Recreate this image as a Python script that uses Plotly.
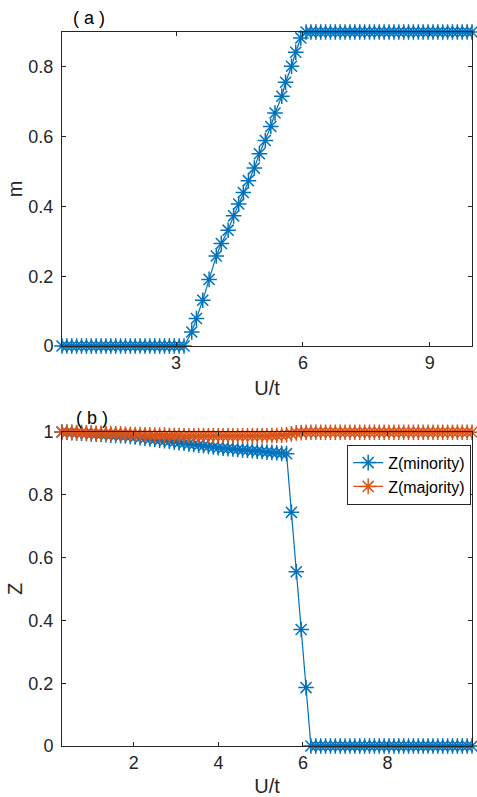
import numpy as np
import plotly.graph_objects as go
from plotly.subplots import make_subplots

# ---------------- data ----------------
# common U/t sampling grid
U_grid = np.round(np.linspace(0.3, 10.0, 85), 4).tolist()

# panel (a): magnetization m
U_a_low = [u for u in U_grid if u < 3.25]
m_low = [0.0] * len(U_a_low)
U_a_rise = [3.37, 3.48, 3.63, 3.78, 3.95, 4.07, 4.23, 4.36, 4.48, 4.59, 4.71,
            4.85, 4.97, 5.11, 5.24, 5.34, 5.50, 5.59, 5.73, 5.83, 5.95]
m_rise = [0.040, 0.079, 0.131, 0.191, 0.258, 0.294, 0.332, 0.373, 0.407, 0.440, 0.474,
          0.510, 0.551, 0.589, 0.629, 0.668, 0.716, 0.756, 0.802, 0.842, 0.883]
U_a_high = [u for u in U_grid if u > 6.0]
m_high = [0.9] * len(U_a_high)
U_a = U_a_low + U_a_rise + U_a_high
m_vals = m_low + m_rise + m_high

# panel (b): quasiparticle weights on U_grid (85 points)
Z_minority = [1.000, 0.999, 0.998, 0.997, 0.996, 0.995, 0.994, 0.993, 0.992, 0.991,
              0.990, 0.989, 0.988, 0.987, 0.986, 0.984, 0.982, 0.980, 0.978, 0.976,
              0.974, 0.972, 0.970, 0.968, 0.966, 0.964, 0.962, 0.960, 0.958, 0.956,
              0.954, 0.952, 0.950, 0.948, 0.947, 0.946, 0.944, 0.943, 0.942, 0.940,
              0.939, 0.938, 0.936, 0.935, 0.934, 0.932, 0.931, 0.744, 0.555, 0.371,
              0.186, 0.0, 0.0, 0.0, 0.0, 0.0, 0.0, 0.0, 0.0, 0.0,
              0.0, 0.0, 0.0, 0.0, 0.0, 0.0, 0.0, 0.0, 0.0, 0.0,
              0.0, 0.0, 0.0, 0.0, 0.0, 0.0, 0.0, 0.0, 0.0, 0.0,
              0.0, 0.0, 0.0, 0.0, 0.0]
Z_majority = [1.000, 0.999, 0.999, 0.998, 0.998, 0.997, 0.997, 0.996, 0.996, 0.995,
              0.995, 0.994, 0.994, 0.993, 0.993, 0.992, 0.992, 0.991, 0.991, 0.990,
              0.990, 0.990, 0.989, 0.989, 0.989, 0.988, 0.988, 0.988, 0.988, 0.988,
              0.988, 0.988, 0.988, 0.988, 0.988, 0.988, 0.988, 0.988, 0.988, 0.988,
              0.988, 0.988, 0.988, 0.989, 0.989, 0.990, 0.991, 0.994, 0.997, 0.998,
              0.999, 0.999, 0.999, 0.999, 0.999, 0.999, 0.999, 0.999, 0.999, 0.999,
              0.999, 0.999, 0.999, 0.999, 0.999, 0.999, 0.999, 0.999, 0.999, 0.999,
              0.999, 0.999, 0.999, 0.999, 0.999, 0.999, 0.999, 0.999, 0.999, 0.999,
              0.999, 0.999, 0.999, 0.999, 0.999]

xticks_a = [3, 6, 9]
yticks_a = [0, 0.2, 0.4, 0.6, 0.8]
xticks_b = [2, 4, 6, 8]
yticks_b = [0, 0.2, 0.4, 0.6, 0.8, 1]

BLUE = "#0072BD"
ORANGE = "#D95319"
AX = "#262626"
FONT = "Liberation Sans, Arial, Helvetica, sans-serif"

fig = make_subplots(rows=2, cols=1)


def star(color):
    return dict(symbol="asterisk-open", size=13, color=color,
                line=dict(color=color, width=1.5))


fig.add_trace(go.Scatter(x=U_a, y=m_vals, mode="lines+markers", showlegend=False,
                         line=dict(color=BLUE, width=1.2), marker=star(BLUE),
                         cliponaxis=False), row=1, col=1)
fig.add_trace(go.Scatter(x=U_grid, y=Z_minority, mode="lines+markers", name="Z(minority)",
                         line=dict(color=BLUE, width=1.2), marker=star(BLUE),
                         cliponaxis=False), row=2, col=1)
fig.add_trace(go.Scatter(x=U_grid, y=Z_majority, mode="lines+markers", name="Z(majority)",
                         line=dict(color=ORANGE, width=1.2), marker=star(ORANGE),
                         cliponaxis=False), row=2, col=1)

axis_common = dict(showline=True, linecolor=AX, linewidth=1, mirror="ticks",
                   ticks="inside", ticklen=4, tickcolor=AX, tickwidth=1,
                   showgrid=False, zeroline=False, automargin=False,
                   tickfont=dict(family=FONT, size=18, color=AX))

fig.update_xaxes(**axis_common)
fig.update_yaxes(**axis_common, ticklabelstandoff=4)

fig.update_xaxes(range=[0.3, 10.0], tickvals=xticks_a, ticktext=[str(t) for t in xticks_a],
                 title=dict(text="U/t", font=dict(family=FONT, size=20, color=AX), standoff=9),
                 domain=[0, 1], row=1, col=1)
fig.update_yaxes(range=[0, 0.9], tickvals=yticks_a, ticktext=["0", "0.2", "0.4", "0.6", "0.8"],
                 title=dict(text="m", font=dict(family=FONT, size=20, color=AX), standoff=0),
                 domain=[0.5602, 1.0], row=1, col=1)
fig.update_xaxes(range=[0.3, 10.0], tickvals=xticks_b, ticktext=[str(t) for t in xticks_b],
                 title=dict(text="U/t", font=dict(family=FONT, size=20, color=AX), standoff=9),
                 domain=[0, 1], row=2, col=1)
fig.update_yaxes(range=[0, 1.0], tickvals=yticks_b, ticktext=["0", "0.2", "0.4", "0.6", "0.8", "1"],
                 title=dict(text="Z", font=dict(family=FONT, size=20, color=AX), standoff=0),
                 domain=[0.0, 0.4398], row=2, col=1)

fig.add_annotation(text="( a )", xref="paper", yref="paper", x=0.065, y=1.0,
                   xanchor="center", yanchor="bottom", yshift=2, showarrow=False,
                   font=dict(family=FONT, size=18, color="#000000"))
fig.add_annotation(text="( b )", xref="paper", yref="paper", x=0.072, y=0.4398,
                   xanchor="center", yanchor="bottom", yshift=2, showarrow=False,
                   font=dict(family=FONT, size=18, color="#000000"))

fig.update_layout(
    width=477, height=797,
    margin=dict(l=62, r=5, t=32, b=51),
    paper_bgcolor="white", plot_bgcolor="white",
    legend=dict(x=0.998, y=0.422, xanchor="right", yanchor="top",
                bgcolor="white", bordercolor=AX, borderwidth=1,
                font=dict(family=FONT, size=16, color="#000000"),
                itemwidth=30, tracegroupgap=0),
)

fig.write_html("out.html", config={"displayModeBar": False},
               post_script="document.body.style.margin='0';document.body.style.overflow='hidden';")
